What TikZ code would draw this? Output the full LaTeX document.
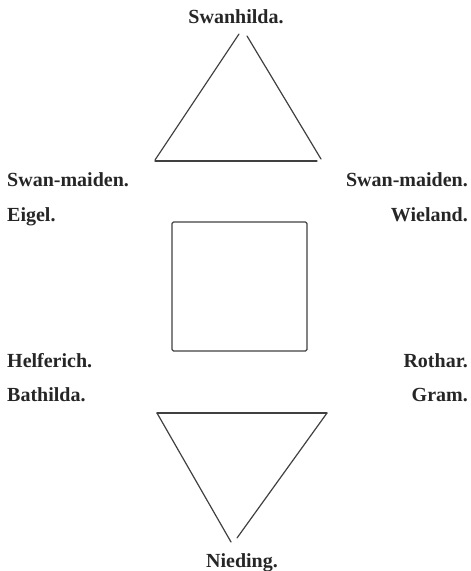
\documentclass[tikz,border=0pt]{standalone}
\usepackage{fontspec}
\setmainfont{Liberation Serif}
\usetikzlibrary{positioning}

\begin{document}
\begin{tikzpicture}[
    x=1pt, y=-1pt,
    nome/.style={font=\fontsize{20}{22}\selectfont\bfseries, text=black!85, inner sep=0pt},
    traco/.style={line width=1.2pt, draw=black!75, line cap=round, line join=round}
]
    \useasboundingbox (0,0) rectangle (471,571);

    \node[nome, anchor=base] (swanhilda) at (236,23) {Swanhilda.};
    \node[nome, anchor=base west] (maidenL) at (7,186) {Swan-maiden.};
    \node[nome, anchor=base west] (eigel) at (7,221) {Eigel.};
    \node[nome, anchor=base east] (maidenR) at (468,186) {Swan-maiden.};
    \node[nome, anchor=base east] (wieland) at (468,221) {Wieland.};
    \node[nome, anchor=base west] (helferich) at (7,367) {Helferich.};
    \node[nome, anchor=base west] (bathilda) at (7,401) {Bathilda.};
    \node[nome, anchor=base east] (rothar) at (468,367) {Rothar.};
    \node[nome, anchor=base east] (gram) at (468,401) {Gram.};
    \node[nome, anchor=base] (nieding) at (242,567) {Nieding.};

    \draw[traco] (155,160) -- (239,34);
    \draw[traco] (247,36) -- (321,159);
    \draw[traco] (155,161) -- (317,161);

    \draw[traco, rounded corners=1.5pt] (172,222) rectangle (307,351);

    \draw[traco] (157,413) -- (327,413);
    \draw[traco] (157,413) -- (231,542);
    \draw[traco] (327,413) -- (237,538);
\end{tikzpicture}
\end{document}
